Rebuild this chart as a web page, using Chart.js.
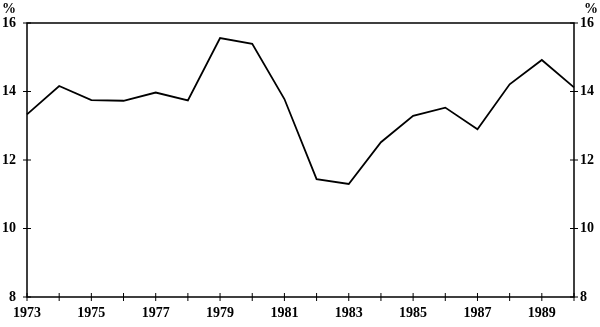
<!DOCTYPE html>
<html>
<head>
<meta charset="utf-8">
<script src="https://cdn.jsdelivr.net/npm/chart.js@4"></script>
<style>
  html, body { margin: 0; padding: 0; background: #fff; }
  #wrap { width: 600px; height: 327px; }
</style>
</head>
<body>
<div id="wrap"><canvas id="chart" width="600" height="327"></canvas></div>
<script>
// ── Data ──────────────────────────────────────────────
const years = [1973, 1974, 1975, 1976, 1977, 1978, 1979, 1980, 1981,
               1982, 1983, 1984, 1985, 1986, 1987, 1988, 1989, 1990];
const rate = [13.33, 14.16, 13.75, 13.73, 13.97, 13.74, 15.56, 15.39, 13.78,
              11.44, 11.30, 12.52, 13.29, 13.53, 12.90, 14.21, 14.92, 14.12];
const yTicks = [8, 10, 12, 14, 16];
const unitLabel = '%';

const FONT = { family: "'Liberation Serif', 'DejaVu Serif', serif", size: 14, weight: 'bold' };

// ── Frame + crossing ticks + unit labels ──────────────
const framePlugin = {
  id: 'frame',
  afterDraw(chart) {
    const { ctx, chartArea: a, scales } = chart;
    ctx.save();
    ctx.strokeStyle = '#000';
    ctx.lineWidth = 1.5;
    ctx.beginPath();
    ctx.rect(a.left, a.top, a.right - a.left, a.bottom - a.top);
    ctx.stroke();

    ctx.lineWidth = 1;
    ctx.beginPath();
    yTicks.forEach(v => {
      const y = scales.y.getPixelForValue(v);
      ctx.moveTo(a.left - 4, y); ctx.lineTo(a.left + 4, y);
      ctx.moveTo(a.right - 4, y); ctx.lineTo(a.right + 4, y);
    });
    years.forEach((_, i) => {
      const x = scales.x.getPixelForValue(i);
      ctx.moveTo(x, a.bottom - 4); ctx.lineTo(x, a.bottom + 4);
    });
    ctx.stroke();

    // unit labels above each axis
    ctx.fillStyle = '#000';
    ctx.font = `bold ${FONT.size}px ${FONT.family}`;
    ctx.textBaseline = 'middle';
    ctx.textAlign = 'left';
    ctx.fillText(unitLabel, 2, 9);
    ctx.textAlign = 'right';
    ctx.fillText(unitLabel, 598, 9);
    ctx.restore();
  }
};

const yAxis = (position, padding) => ({
  type: 'linear',
  position,
  min: 8,
  max: 16,
  grid: { display: false, drawTicks: false },
  border: { display: false },
  afterBuildTicks: s => { s.ticks = yTicks.map(v => ({ value: v })); },
  afterFit: s => { s.width = position === 'left' ? 27 : 26; },
  ticks: { color: '#000', font: FONT, padding, callback: v => v }
});

new Chart(document.getElementById('chart'), {
  type: 'line',
  data: {
    labels: years,
    datasets: [{
      data: rate,
      borderColor: '#000',
      borderWidth: 1.8,
      pointRadius: 0,
      tension: 0,
      fill: false
    }]
  },
  options: {
    responsive: false,
    animation: false,
    layout: { padding: { top: 23, left: 0, right: 0, bottom: 0 } },
    plugins: { legend: { display: false }, tooltip: { enabled: false } },
    scales: {
      x: {
        type: 'category',
        offset: false,
        grid: { display: false, drawTicks: false },
        border: { display: false },
        afterFit: s => { s.height = 30; },
        ticks: {
          color: '#000',
          font: FONT,
          padding: 8,
          maxRotation: 0,
          autoSkip: false,
          callback: (v, i) => (years[i] % 2 ? String(years[i]) : '')
        }
      },
      y: yAxis('left', 11),
      y2: yAxis('right', 6)
    }
  },
  plugins: [framePlugin]
});
</script>
</body>
</html>
